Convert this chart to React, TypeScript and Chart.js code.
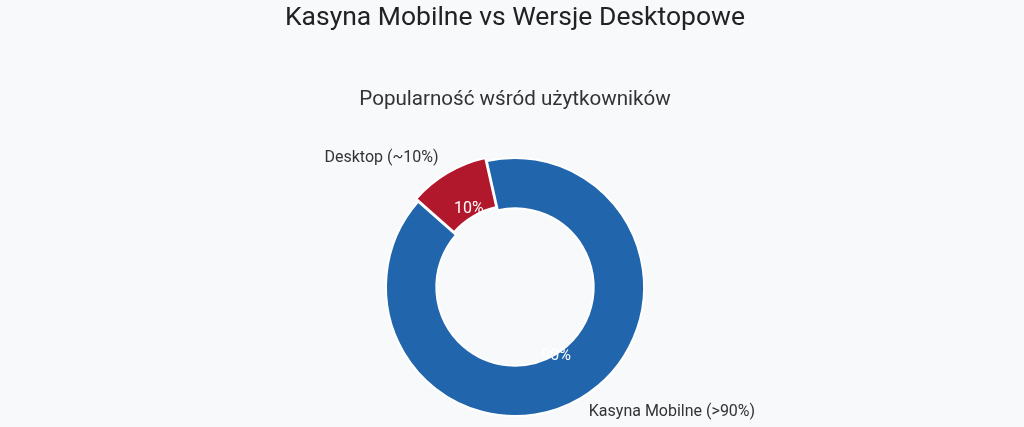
import { useEffect, useRef } from 'react';
import { Chart, registerables } from 'chart.js';
import type { ChartOptions, Plugin } from 'chart.js';

Chart.register(...registerables);

// Data
const categories = ['Kasyna Mobilne', 'Desktop'];
const shares = [90, 10];
const outerLabels = ['Kasyna Mobilne (>90%)', 'Desktop (~10%)'];
const innerLabels = ['90%', '10%'];
const sliceColors = ['#2166ac', '#b2182b'];
const sliceOffsets = [0, 10];

const FONT = 'Roboto, "Open Sans", sans-serif';

// Draws the percentage text at the inner edge and the category text outside
const sliceLabels: Plugin<'doughnut'> = {
    id: 'sliceLabels',
    afterDatasetsDraw(chart) {
        const { ctx } = chart;
        const meta = chart.getDatasetMeta(0);
        meta.data.forEach((el, i) => {
            const arc = el as any;
            const { x, y, startAngle, endAngle, innerRadius, outerRadius } = arc.getProps(
                ['x', 'y', 'startAngle', 'endAngle', 'innerRadius', 'outerRadius'],
                true
            );
            const mid = (startAngle + endAngle) / 2;
            const off = sliceOffsets[i] || 0;
            const cos = Math.cos(mid);
            const sin = Math.sin(mid);

            ctx.save();
            ctx.font = `16px ${FONT}`;
            ctx.fillStyle = '#ffffff';
            ctx.textAlign = 'center';
            ctx.textBaseline = 'middle';
            const ri = innerRadius + off + 2;
            ctx.fillText(innerLabels[i], x + cos * ri, y + sin * ri);

            ctx.fillStyle = '#333333';
            ctx.textAlign = cos >= 0 ? 'left' : 'right';
            const ro = outerRadius + 16 + off * 0.5;
            ctx.fillText(outerLabels[i], x + cos * ro, y + sin * ro);
            ctx.restore();
        });
    },
};

const App: React.FC = () => {
    const chartRef = useRef<HTMLCanvasElement | null>(null);

    useEffect(() => {
        const ctx = chartRef.current?.getContext('2d');
        if (!ctx) return;

        const options: ChartOptions<'doughnut'> = {
            responsive: true,
            maintainAspectRatio: false,
            animation: false,
            radius: 129,
            cutout: '61%',
            rotation: -12.6,
            layout: { padding: { left: 6, right: 0, top: 0, bottom: 5 } },
            plugins: {
                legend: { display: false },
                tooltip: { enabled: false },
                title: {
                    display: true,
                    text: 'Kasyna Mobilne vs Wersje Desktopowe',
                    color: '#222222',
                    font: { family: FONT, size: 26.5, weight: 'normal' },
                    padding: { top: 2.5, bottom: 53 },
                },
                subtitle: {
                    display: true,
                    text: 'Popularność wśród użytkowników',
                    color: '#333333',
                    font: { family: FONT, size: 20.6, weight: 'normal' },
                    padding: { top: 0, bottom: 40 },
                },
            },
        };

        const chartInstance = new Chart(ctx, {
            type: 'doughnut',
            data: {
                labels: categories,
                datasets: [
                    {
                        data: shares,
                        backgroundColor: sliceColors,
                        borderColor: '#ffffff',
                        borderWidth: 2,
                        hoverBorderWidth: 2,
                        offset: sliceOffsets,
                        hoverOffset: 0,
                    },
                ],
            },
            options,
            plugins: [sliceLabels],
        });

        return () => {
            chartInstance.destroy();
        };
    }, []);

    return (
        <div style={{ position: 'fixed', left: 0, top: 0, width: 1024, height: 427, background: '#f7f9fb' }}>
            <canvas ref={chartRef}></canvas>
        </div>
    );
};

export default App;
